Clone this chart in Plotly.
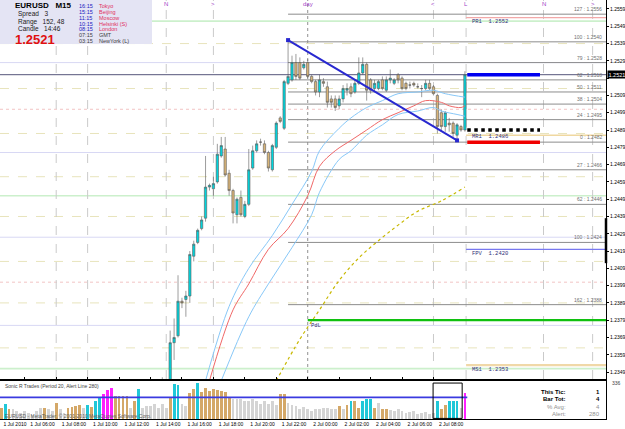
import plotly.graph_objects as go

# ---------------- data ----------------
# 15-minute bars, index 35 = 2 Jul 00:00
bar_idx = list(range(-2, 76))
opens = [1.2335, 1.2338, 1.2340, 1.2366, 1.2370, 1.2390, 1.2391, 1.2393, 1.2416, 1.2424,
         1.2432, 1.2438, 1.2456, 1.2455, 1.2459, 1.2474, 1.2478, 1.2464, 1.2454, 1.2440,
         1.2450, 1.2439, 1.2446, 1.2467, 1.2477, 1.2482, 1.2481, 1.2476, 1.2466, 1.2479,
         1.2496, 1.2490, 1.2516, 1.2518, 1.2528, 1.2528, 1.2525, 1.2528, 1.2520, 1.2517,
         1.2511, 1.2517, 1.2514, 1.2507, 1.2507, 1.2503, 1.2507, 1.2512, 1.2514, 1.2511,
         1.2516, 1.2522, 1.2527, 1.2518, 1.2513, 1.2513, 1.2518, 1.2512, 1.2518, 1.2516,
         1.2521, 1.2519, 1.2516, 1.2515, 1.2516, 1.2514, 1.2513, 1.2513, 1.2516, 1.2514,
         1.2509, 1.2499, 1.2491, 1.2493, 1.2493, 1.2486, 1.2491, 1.2489]
highs = [1.2346, 1.2343, 1.2373, 1.2380, 1.2405, 1.2392, 1.2396, 1.2419, 1.2425, 1.2432,
         1.2439, 1.2474, 1.2458, 1.2462, 1.2481, 1.2485, 1.2485, 1.2466, 1.2455, 1.2450,
         1.2454, 1.2448, 1.2478, 1.2480, 1.2483, 1.2484, 1.2483, 1.2477, 1.2481, 1.2494,
         1.2497, 1.2518, 1.2541, 1.2532, 1.2533, 1.2531, 1.2529, 1.2530, 1.2521, 1.2518,
         1.2521, 1.2519, 1.2517, 1.2509, 1.2509, 1.2509, 1.2515, 1.2516, 1.2516, 1.2518,
         1.2531, 1.2531, 1.2528, 1.2519, 1.2518, 1.2518, 1.2520, 1.2520, 1.2524, 1.2519,
         1.2522, 1.2520, 1.2517, 1.2517, 1.2517, 1.2516, 1.2515, 1.2518, 1.2518, 1.2515,
         1.2510, 1.2501, 1.2500, 1.2496, 1.2494, 1.2493, 1.2492, 1.2523]
lows = [1.2330, 1.2332, 1.2338, 1.2356, 1.2369, 1.2386, 1.2381, 1.2389, 1.2413, 1.2423,
        1.2431, 1.2436, 1.2454, 1.2451, 1.2458, 1.2473, 1.2462, 1.2451, 1.2435, 1.2435,
        1.2439, 1.2438, 1.2445, 1.2466, 1.2476, 1.2480, 1.2475, 1.2465, 1.2465, 1.2478,
        1.2493, 1.2489, 1.2515, 1.2517, 1.2518, 1.2518, 1.2524, 1.2519, 1.2516, 1.2509,
        1.2508, 1.2514, 1.2502, 1.2502, 1.2500, 1.2501, 1.2505, 1.2509, 1.2508, 1.2510,
        1.2515, 1.2521, 1.2506, 1.2510, 1.2511, 1.2512, 1.2512, 1.2511, 1.2516, 1.2515,
        1.2516, 1.2512, 1.2512, 1.2513, 1.2514, 1.2513, 1.2508, 1.2512, 1.2512, 1.2509,
        1.2487, 1.2488, 1.2488, 1.2488, 1.2485, 1.2483, 1.2488, 1.2488]
closes = [1.2338, 1.2340, 1.2366, 1.2369, 1.2390, 1.2389, 1.2393, 1.2417, 1.2423, 1.2431,
          1.2437, 1.2456, 1.2457, 1.2458, 1.2475, 1.2480, 1.2463, 1.2454, 1.2441, 1.2449,
          1.2440, 1.2446, 1.2466, 1.2477, 1.2481, 1.2482, 1.2476, 1.2467, 1.2480, 1.2493,
          1.2494, 1.2517, 1.2520, 1.2528, 1.2520, 1.2519, 1.2527, 1.2520, 1.2517, 1.2511,
          1.2518, 1.2516, 1.2505, 1.2505, 1.2502, 1.2507, 1.2513, 1.2513, 1.2510, 1.2516,
          1.2522, 1.2527, 1.2512, 1.2512, 1.2516, 1.2517, 1.2513, 1.2518, 1.2519, 1.2518,
          1.2518, 1.2513, 1.2513, 1.2515, 1.2515, 1.2514, 1.2513, 1.2516, 1.2513, 1.2510,
          1.2491, 1.2491, 1.2499, 1.2492, 1.2487, 1.2492, 1.2489, 1.2521]

# envelope of moving average
ma_up_idx = [9, 15, 20, 26, 31, 36, 38, 43, 46, 50, 54, 58, 63, 67, 70, 75]
ma_up_val = [1.2344, 1.2387, 1.2409, 1.2428, 1.2446, 1.2465, 1.2477, 1.2490, 1.2496, 1.2502,
             1.2506, 1.2510, 1.2511, 1.2512, 1.2510, 1.2508]
ma_mid_idx = [10, 16, 20, 25, 30, 35, 38, 42, 46, 50, 54, 58, 62, 65, 69, 71, 74, 75]
ma_mid_val = [1.2344, 1.2385, 1.2400, 1.2420, 1.2432, 1.2451, 1.2468, 1.2477, 1.2483, 1.2489,
              1.2495, 1.2499, 1.2503, 1.2506, 1.2505, 1.2503, 1.2502, 1.2503]
ma_lo_idx = [13, 20, 25, 31, 36, 38, 43, 46, 50, 54, 58, 63, 67, 69, 73, 75]
ma_lo_val = [1.2344, 1.2381, 1.2400, 1.2421, 1.2440, 1.2453, 1.2472, 1.2477, 1.2486, 1.2492,
             1.2498, 1.2500, 1.2502, 1.2500, 1.2498, 1.2497]
ma_long_idx = [27, 33, 38, 43, 48, 53, 58, 63, 69, 75]
ma_long_val = [1.2344, 1.2368, 1.2385, 1.2402, 1.2415, 1.2425, 1.2434, 1.2442, 1.2448, 1.2456]

# trend line
trend_idx = [30, 73]
trend_val = [1.2541, 1.2483]

# fibonacci levels
fib_names = ['127', '100', '79', '62', '50', '38', '24', '0', '27', '62', '100', '162']
fib_vals = [1.2556, 1.2540, 1.2528, 1.2518, 1.2511, 1.2504, 1.2495, 1.2482,
            1.2466, 1.2446, 1.2424, 1.2388]

# pale pivot grid levels
grid_vals = [1.2552, 1.2539, 1.2528, 1.2513, 1.2501, 1.2487, 1.2476, 1.2462, 1.2451,
             1.2439, 1.2427, 1.2413, 1.2401, 1.2389, 1.2376, 1.2363, 1.2351]
grid_kind = ['g', 'y', 'l', 'y', 'p', 'y', 'l', 'y', 'g', 'y', 'l', 'y', 'p', 'y', 'l', 'y', 'g']

# labelled pivot levels
piv_names = ['PR1', 'MR1', 'FPV', 'MS1']
piv_vals = [1.2552, 1.2486, 1.2420, 1.2353]
pdl_val = 1.2379
prev_high_val = 1.2554
marker_vals = [1.2521, 1.2489, 1.2482]   # blue, black, red bars
bid = 1.2521

# vertical session lines
vline_idx = [-29, -21, -1, 11, 35, 67, 75.3, 95, 107.5]
vline_text = ['', '', 'N', '>', 'day', '<', 'L', 'N', '>']

# volume indicator
vol_idx = list(range(-43, 76))
vol_vals = [245, 259, 241, 241, 234, 227, 234, 227, 220, 234,
            245, 245, 241, 234, 262, 241, 227, 245, 248, 252,
            255, 245, 255, 248, 269, 280, 290, 304, 311, 283,
            283, 283, 283, 245, 269, 308, 245, 252, 252, 259,
            245, 259, 245, 280, 325, 322, 259, 252, 294, 308,
            329, 297, 311, 301, 308, 304, 301, 297, 280, 276,
            273, 273, 269, 266, 273, 266, 259, 269, 259, 269,
            255, 290, 290, 262, 255, 252, 241, 248, 241, 234,
            241, 241, 245, 245, 241, 241, 252, 241, 255, 269,
            266, 245, 266, 276, 273, 245, 262, 241, 241, 238,
            234, 241, 234, 227, 230, 234, 224, 227, 230, 224,
            227, 269, 241, 255, 269, 269, 269, 245, 294]
vol_kind = list('tctggggggg' 'gtggtggttt' 'tgctccmmmt' 'tttgtcgggg' 'gggtccggtt'
                'cttttttttg' 'gggggggggg' 'gttggggggg' 'ggggggtgtc' 'ttccctgttg'
                'gggggggggg' 'gcttcccgm')
alert_line = 280

price_ticks = ['1.2349', '1.2359', '1.2369', '1.2379', '1.2389', '1.2399', '1.2409', '1.2419',
               '1.2429', '1.2439', '1.2449', '1.2459', '1.2469', '1.2479', '1.2489', '1.2499',
               '1.2509', '1.2519', '1.2529', '1.2539', '1.2549', '1.2559']
time_labels = ['1 Jul 2010', '1 Jul 06:00', '1 Jul 08:00', '1 Jul 10:00', '1 Jul 12:00',
               '1 Jul 14:00', '1 Jul 16:00', '1 Jul 18:00', '1 Jul 20:00', '1 Jul 22:00',
               '2 Jul 00:00', '2 Jul 02:00', '2 Jul 04:00', '2 Jul 06:00', '2 Jul 08:00']
time_bars = [-44, -37, -29, -21, -13, -5, 3, 11, 19, 27, 35, 43, 51, 59, 67]

# ---------------- styling ----------------
FONT = 'Liberation Sans, Arial, sans-serif'
MONO = 'Liberation Mono, DejaVu Sans Mono, monospace'
X_MIN, X_MAX = -43.3, 110.9
W, H = 625, 429
PLOT_H = 419


def py(ypx):
    return (PLOT_H - ypx) / PLOT_H


def pxx(xpx):
    return xpx / 606.0


fig = go.Figure()

# candles
fig.add_trace(go.Candlestick(
    x=bar_idx, open=opens, high=highs, low=lows, close=closes,
    increasing=dict(fillcolor='#00D4DC', line=dict(color='#5A5A5A', width=0.6)),
    decreasing=dict(fillcolor='#D8B478', line=dict(color='#5A5A5A', width=0.6)),
    whiskerwidth=0, showlegend=False, xaxis='x', yaxis='y'))

# moving averages
fig.add_trace(go.Scatter(x=ma_up_idx, y=ma_up_val, mode='lines', line=dict(color='#88C8F8', width=1, shape='spline'),
                         showlegend=False))
fig.add_trace(go.Scatter(x=ma_lo_idx, y=ma_lo_val, mode='lines', line=dict(color='#88C8F8', width=1, shape='spline'),
                         showlegend=False))
fig.add_trace(go.Scatter(x=ma_mid_idx, y=ma_mid_val, mode='lines', line=dict(color='#F06868', width=1, shape='spline'),
                         showlegend=False))
fig.add_trace(go.Scatter(x=ma_long_idx, y=ma_long_val, mode='lines',
                         line=dict(color='#C8B800', width=1.2, dash='dot', shape='spline'), showlegend=False))

# trend line
fig.add_trace(go.Scatter(x=trend_idx, y=trend_val, mode='lines+markers',
                         line=dict(color='#2828D0', width=2),
                         marker=dict(symbol='square', size=4, color='#2828D0'), showlegend=False))

# volume bars
vol_colors = {'g': '#D4D4D4', 't': '#D4A868', 'c': '#20C8D8', 'm': '#FF20FF'}
fig.add_trace(go.Bar(x=vol_idx, y=vol_vals, marker=dict(color=[vol_colors[k] for k in vol_kind], line=dict(width=0)),
                     width=0.72, showlegend=False, xaxis='x2', yaxis='y2'))
fig.add_trace(go.Scatter(x=[X_MIN, 75.6], y=[alert_line, alert_line], mode='lines',
                         line=dict(color='#3A3AE0', width=1.6), showlegend=False, xaxis='x2', yaxis='y2'))

shapes = []
# pale grid
gstyle = {'g': dict(color='#CCF0CC', width=1.6, dash='solid'),
          'y': dict(color='#E8E4BC', width=1, dash='dash'),
          'l': dict(color='#D8D8F4', width=1, dash='solid'),
          'p': dict(color='#F2C4C4', width=1, dash='dot')}
for v, k in zip(grid_vals, grid_kind):
    shapes.append(dict(type='line', xref='paper', x0=0, x1=1, yref='y', y0=v, y1=v,
                       line=gstyle[k], layer='below'))
# vertical lines
for xi, t in zip(vline_idx, vline_text):
    if t == 'day':
        ln = dict(color='#909090', width=1, dash='dot')
    else:
        ln = dict(color='#CACACA', width=1, dash='dash')
    shapes.append(dict(type='line', xref='x', x0=xi, x1=xi, yref='y domain', y0=0, y1=1, line=ln, layer='below'))
# fib lines
for v in fib_vals:
    shapes.append(dict(type='line', xref='x', x0=trend_idx[0], x1=X_MAX, yref='y', y0=v, y1=v,
                       line=dict(color='#8C8C8C', width=1), layer='below'))
# bid line
shapes.append(dict(type='line', xref='paper', x0=0, x1=1, yref='y', y0=bid, y1=bid,
                   line=dict(color='#55557A', width=1), layer='below'))
# pivot labelled lines
shapes.append(dict(type='line', xref='x', x0=75.3, x1=X_MAX, yref='y', y0=prev_high_val, y1=prev_high_val,
                   line=dict(color='#F2A8A8', width=1.2)))
piv_style = [None, dict(color='#F0D8A0', width=1.6), dict(color='#7878F0', width=1.3),
             dict(color='#F0D8A8', width=2.2)]
for v, st in zip(piv_vals, piv_style):
    if st:
        shapes.append(dict(type='line', xref='x', x0=75.3, x1=X_MAX, yref='y', y0=v, y1=v, line=st))
shapes.append(dict(type='line', xref='x', x0=35, x1=X_MAX, yref='y', y0=pdl_val, y1=pdl_val,
                   line=dict(color='#10C010', width=2.2)))
# thick marker bars
mk_style = [dict(color='#0000F0', width=3.5), dict(color='#000000', width=3.5, dash='dot'),
            dict(color='#F00000', width=3.5)]
for v, st in zip(marker_vals, mk_style):
    shapes.append(dict(type='line', xref='x', x0=75.6, x1=94.1, yref='y', y0=v, y1=v, line=st))
# black bar on price scale
shapes.append(dict(type='line', xref='paper', x0=1, x1=1, yref='y', y0=1.2412, y1=1.2438,
                   line=dict(color='#000000', width=2.5)))
# highlight box in volume pane
shapes.append(dict(type='rect', xref='x', x0=66.9, x1=74.3, yref='y2', y0=208, y1=329,
                   line=dict(color='#000000', width=1)))
# info panel background
shapes.append(dict(type='rect', xref='paper', x0=0, x1=pxx(152), yref='paper', y0=py(44), y1=1,
                   fillcolor='#E4E4F4', line=dict(width=0)))

ann = []
# info panel text
ann.append(dict(text='<b>EURUSD   M15</b>', x=pxx(13), y=py(6), font=dict(size=8, color='#000000')))
ann.append(dict(text='Spread   3', x=pxx(16), y=py(14.5), font=dict(size=6.5, color='#202020')))
ann.append(dict(text='Range   152, 48', x=pxx(16), y=py(21.5), font=dict(size=6.5, color='#202020')))
ann.append(dict(text='Candle   14:46', x=pxx(16), y=py(28.5), font=dict(size=6.5, color='#202020')))
ann.append(dict(text='<b>1.2521</b>', x=pxx(13), y=py(39.5), font=dict(size=13, color='#E01010')))
times = ['16:15', '15:15', '11:15', '10:15', '08:15', '07:15', '03:15']
cities = ['Tokyo', 'Beijing', 'Moscow', 'Helsinki (S)', 'London', 'GMT', 'NewYork (L)']
rows = [6, 12, 18, 23.5, 29, 35, 41]
for i, (t, c, r) in enumerate(zip(times, cities, rows)):
    tc = '#2020C0' if i < 5 else '#404040'
    cc = '#E03060' if i < 5 else '#404040'
    ann.append(dict(text=t, x=pxx(77), y=py(r), font=dict(size=5.5, color=tc)))
    ann.append(dict(text=c, x=pxx(97), y=py(r), font=dict(size=5.5, color=cc)))
for a in ann:
    a.update(xref='paper', yref='paper', xanchor='left', yanchor='middle', showarrow=False)
    a['font']['family'] = FONT

# session markers on top
for xi, t in zip(vline_idx, vline_text):
    if t:
        ann.append(dict(text=t, x=xi, xref='x', y=py(4), yref='paper', xanchor='center', yanchor='middle',
                        showarrow=False, font=dict(size=6, color='#A040C8', family=FONT)))
# fib labels
for n, v in zip(fib_names, fib_vals):
    ann.append(dict(text=f'{n} : {v:.4f}', x=pxx(604), xref='paper', y=v, yref='y', xanchor='right',
                    yanchor='bottom', showarrow=False, font=dict(size=5, color='#707070', family=FONT)))
# pivot labels
for n, v in zip(piv_names, piv_vals):
    ann.append(dict(text=f'{n}  {v:.4f}', x=76.3, xref='x', y=v, yref='y', xanchor='left',
                    yanchor='middle' if n in ('PR1', 'MR1') else 'top',
                    yshift={'PR1': 0, 'MR1': -1, 'FPV': 1, 'MS1': 1}[n],
                    showarrow=False, font=dict(size=5.5, color='#303078', family=MONO)))
ann.append(dict(text='PdL', x=35.3, xref='x', y=pdl_val, yref='y', xanchor='left', yanchor='top',
                showarrow=False, font=dict(size=5.5, color='#303078', family=MONO)))
# current price tag
ann.append(dict(text='1.2521', x=1, xref='paper', y=bid, yref='y', xanchor='left', yanchor='middle',
                showarrow=False, bgcolor='#000000', borderpad=0.5, xshift=1,
                font=dict(size=5.5, color='#FFFFFF', family=FONT)))
# indicator texts
ann.append(dict(text='Sonic R Trades (Period 20, Alert Line 280)', x=pxx(3), xref='paper', y=py(386),
                yref='paper', xanchor='left', yanchor='middle', showarrow=False,
                font=dict(size=5, color='#404040', family=FONT)))
ann.append(dict(text='EURUSD - MetaTrader, \u00a9 2001-2010 MetaQuotes Software Corp.', x=pxx(3),
                xref='paper', y=py(416), yref='paper', xanchor='left', yanchor='middle', showarrow=False,
                font=dict(size=5, color='#606060', family=FONT)))
stat_names = ['<b>This Tic:</b>', '<b>Bar Tot:</b>', '% Avg:', 'Alert:']
stat_vals = ['<b>1</b>', '<b>4</b>', '4', '280']
stat_rows = [392, 399, 406.5, 413.5]
for i, (n, v, r) in enumerate(zip(stat_names, stat_vals, stat_rows)):
    col = '#000000' if i < 2 else '#909090'
    ann.append(dict(text=n, x=pxx(568), xref='paper', y=py(r), yref='paper', xanchor='right', yanchor='middle',
                    showarrow=False, font=dict(size=6, color=col, family=FONT)))
    ann.append(dict(text=v, x=pxx(602), xref='paper', y=py(r), yref='paper', xanchor='right', yanchor='middle',
                    showarrow=False, font=dict(size=6, color=col, family=FONT)))
ann.append(dict(text='336', x=1, xref='paper', y=py(383), yref='paper', xanchor='left', yanchor='middle',
                xshift=4, showarrow=False, font=dict(size=5, color='#404040', family=FONT)))

# price-scale text: the current-price tag hides the 1.2519 label
shown_ticks = [t if t != '1.2519' else '' for t in price_ticks]

fig.update_layout(
    width=W, height=H,
    margin=dict(l=0, r=19, t=0, b=10),
    paper_bgcolor='#FFFFFF', plot_bgcolor='#FFFFFF',
    font=dict(family=FONT, size=5, color='#000000'),
    showlegend=False,
    bargap=0, boxgap=0.15,
    xaxis=dict(domain=[0, 1], anchor='y', range=[X_MIN, X_MAX], showgrid=False, zeroline=False,
               showticklabels=False, showline=True, linecolor='#000000', linewidth=1,
               rangeslider=dict(visible=False), tickvals=time_bars[1:], ticks='inside', ticklen=2,
               tickcolor='#000000'),
    xaxis2=dict(domain=[0, 1], anchor='y2', matches='x', range=[X_MIN, X_MAX], showgrid=False, zeroline=False,
                showline=True, mirror=True, linecolor='#000000', linewidth=1,
                tickvals=[b + 4.5 for b in time_bars], ticktext=time_labels, ticks='', tickangle=0,
                ticklabeloverflow='allow', tickfont=dict(size=5, color='#000000'), automargin=False),
    yaxis=dict(domain=[py(379), 1], anchor='x', side='right', range=[1.23450, 1.25642],
               showgrid=False, zeroline=False, showline=True, mirror=True, linecolor='#000000', linewidth=1,
               tickvals=[float(t) for t in price_ticks], ticktext=shown_ticks, ticks='outside', ticklen=2,
               tickcolor='#000000', tickfont=dict(size=5, color='#000000'), automargin=False),
    yaxis2=dict(domain=[0, py(381)], anchor='x2', side='right', range=[206, 336], showgrid=False,
                zeroline=False, showline=True, mirror=True, linecolor='#000000', linewidth=1,
                showticklabels=False, ticks=''),
    shapes=shapes,
    annotations=ann,
)

fig.write_html('out.html')
